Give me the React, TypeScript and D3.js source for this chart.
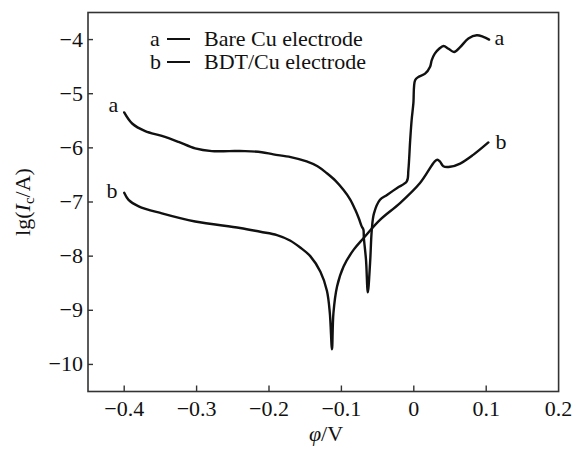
import React from "react";
import * as d3 from "d3";

const xTicks = [-0.4, -0.3, -0.2, -0.1, 0, 0.1, 0.2];
const yTicks = [-10, -9, -8, -7, -6, -5, -4];

const aX = [-0.400, -0.389, -0.371, -0.348, -0.325, -0.302, -0.279, -0.255, -0.233, -0.210, -0.194, -0.170, -0.148, -0.133, -0.120, -0.108, -0.097, -0.088, -0.081, -0.076, -0.072, -0.0696, -0.069, -0.066, -0.0635, -0.0604, -0.058, -0.055, -0.0467, -0.037, -0.023, -0.0097, -0.0075, -0.005, -0.003, -0.0006, 0.0018, 0.0063, 0.0156, 0.0225, 0.0248, 0.029, 0.035, 0.041, 0.048, 0.0557, 0.064, 0.0754, 0.087, 0.096, 0.104];
const aY = [-5.345, -5.55, -5.69, -5.78, -5.89, -6.01, -6.06, -6.06, -6.06, -6.08, -6.12, -6.17, -6.25, -6.34, -6.47, -6.61, -6.78, -6.95, -7.14, -7.30, -7.45, -7.51, -7.66, -8.07, -8.67, -8.13, -7.51, -7.21, -6.96, -6.87, -6.74, -6.62, -6.41, -5.86, -5.49, -5.18, -4.75, -4.69, -4.63, -4.50, -4.38, -4.26, -4.17, -4.12, -4.17, -4.23, -4.14, -3.98, -3.92, -3.95, -4.0];

const bX = [-0.400, -0.394, -0.380, -0.348, -0.302, -0.240, -0.212, -0.189, -0.171, -0.157, -0.143, -0.129, -0.120, -0.116, -0.113, -0.111, -0.106, -0.097, -0.083, -0.069, -0.0467, -0.019, 0.0086, 0.029, 0.0326, 0.036, 0.0408, 0.050, 0.064, 0.082, 0.103];
const bY = [-6.83, -6.96, -7.08, -7.21, -7.36, -7.48, -7.55, -7.61, -7.71, -7.84, -8.00, -8.29, -8.64, -9.05, -9.72, -9.05, -8.56, -8.19, -7.88, -7.66, -7.33, -7.02, -6.65, -6.25, -6.22, -6.25, -6.34, -6.35, -6.29, -6.13, -5.90];

const legendLabels = ["Bare Cu electrode", "BDT/Cu electrode"];
const curveKeys = ["a", "b"];

const W = 574, H = 451;
const M = { left: 88, right: 558.6, top: 12.5, bottom: 391.5 };
const FONT = "'Liberation Serif', 'Times New Roman', serif";

export default function App() {
  const x = d3.scaleLinear().domain([-0.45, 0.2]).range([M.left, M.right]);
  const y = d3.scaleLinear().domain([-10.5, -3.5]).range([M.bottom, M.top]);
  const line = d3.line<[number, number]>().x(d => x(d[0])).y(d => y(d[1])).curve(d3.curveCatmullRom.alpha(0.5));
  const aData = aX.map((v, i) => [v, aY[i]] as [number, number]);
  const bData = bX.map((v, i) => [v, bY[i]] as [number, number]);
  const axisColor = "#333";
  const fs = 22;
  return (
    <svg width={W} height={H} style={{ position: "absolute", left: 0, top: 0, background: "#fff" }} fontFamily={FONT}>
      <rect x={0} y={0} width={W} height={H} fill="#fff" />
      <rect x={M.left} y={M.top} width={M.right - M.left} height={M.bottom - M.top} fill="none" stroke={axisColor} strokeWidth={1.6} />
      {xTicks.map(t => (
        <g key={"x" + t}>
          {t !== 0.2 && <line x1={x(t)} x2={x(t)} y1={M.bottom} y2={M.bottom - 6} stroke={axisColor} strokeWidth={1.4} />}
          <text x={x(t)} y={416} textAnchor="middle" fontSize={fs} fill="#111">{t === 0 ? "0" : d3.format(".1f")(t).replace("-", "\u2212")}</text>
        </g>
      ))}
      {yTicks.map(t => (
        <g key={"y" + t}>
          <line x1={M.left} x2={M.left + 5} y1={y(t)} y2={y(t)} stroke={axisColor} strokeWidth={1.4} />
          <text x={83} y={y(t) + 7} textAnchor="end" fontSize={fs} fill="#111">{String(t).replace("-", "\u2212")}</text>
        </g>
      ))}
      <path d={line(aData) || ""} fill="none" stroke="#111" strokeWidth={2.4} strokeLinejoin="round" strokeLinecap="round" />
      <path d={line(bData) || ""} fill="none" stroke="#111" strokeWidth={2.4} strokeLinejoin="round" strokeLinecap="round" />
      {/* curve labels */}
      <text x={113.5} y={112} textAnchor="middle" fontSize={fs} fill="#111">{curveKeys[0]}</text>
      <text x={112} y={198} textAnchor="middle" fontSize={fs} fill="#111">{curveKeys[1]}</text>
      <text x={499.5} y={45} textAnchor="middle" fontSize={fs} fill="#111">{curveKeys[0]}</text>
      <text x={501} y={149} textAnchor="middle" fontSize={fs} fill="#111">{curveKeys[1]}</text>
      {/* legend */}
      {legendLabels.map((lab, i) => (
        <g key={lab}>
          <text x={150} y={46 + i * 23} fontSize={fs} fill="#111">{curveKeys[i]}</text>
          <line x1={167} x2={190} y1={39 + i * 23} y2={39 + i * 23} stroke="#111" strokeWidth={2} />
          <text x={204} y={46 + i * 23} fontSize={fs} fill="#111">{lab}</text>
        </g>
      ))}
      {/* axis titles */}
      <text x={326} y={441} textAnchor="middle" fontSize={fs} fill="#111">
        <tspan fontStyle="italic">φ</tspan><tspan>/V</tspan>
      </text>
      <text transform={`translate(30, ${(M.top + M.bottom) / 2}) rotate(-90)`} textAnchor="middle" fontSize={fs} fill="#111">
        <tspan>lg(</tspan><tspan fontStyle="italic">I</tspan><tspan fontSize={15} dy={4}>c</tspan><tspan dy={-4}>/A)</tspan>
      </text>
    </svg>
  );
}
